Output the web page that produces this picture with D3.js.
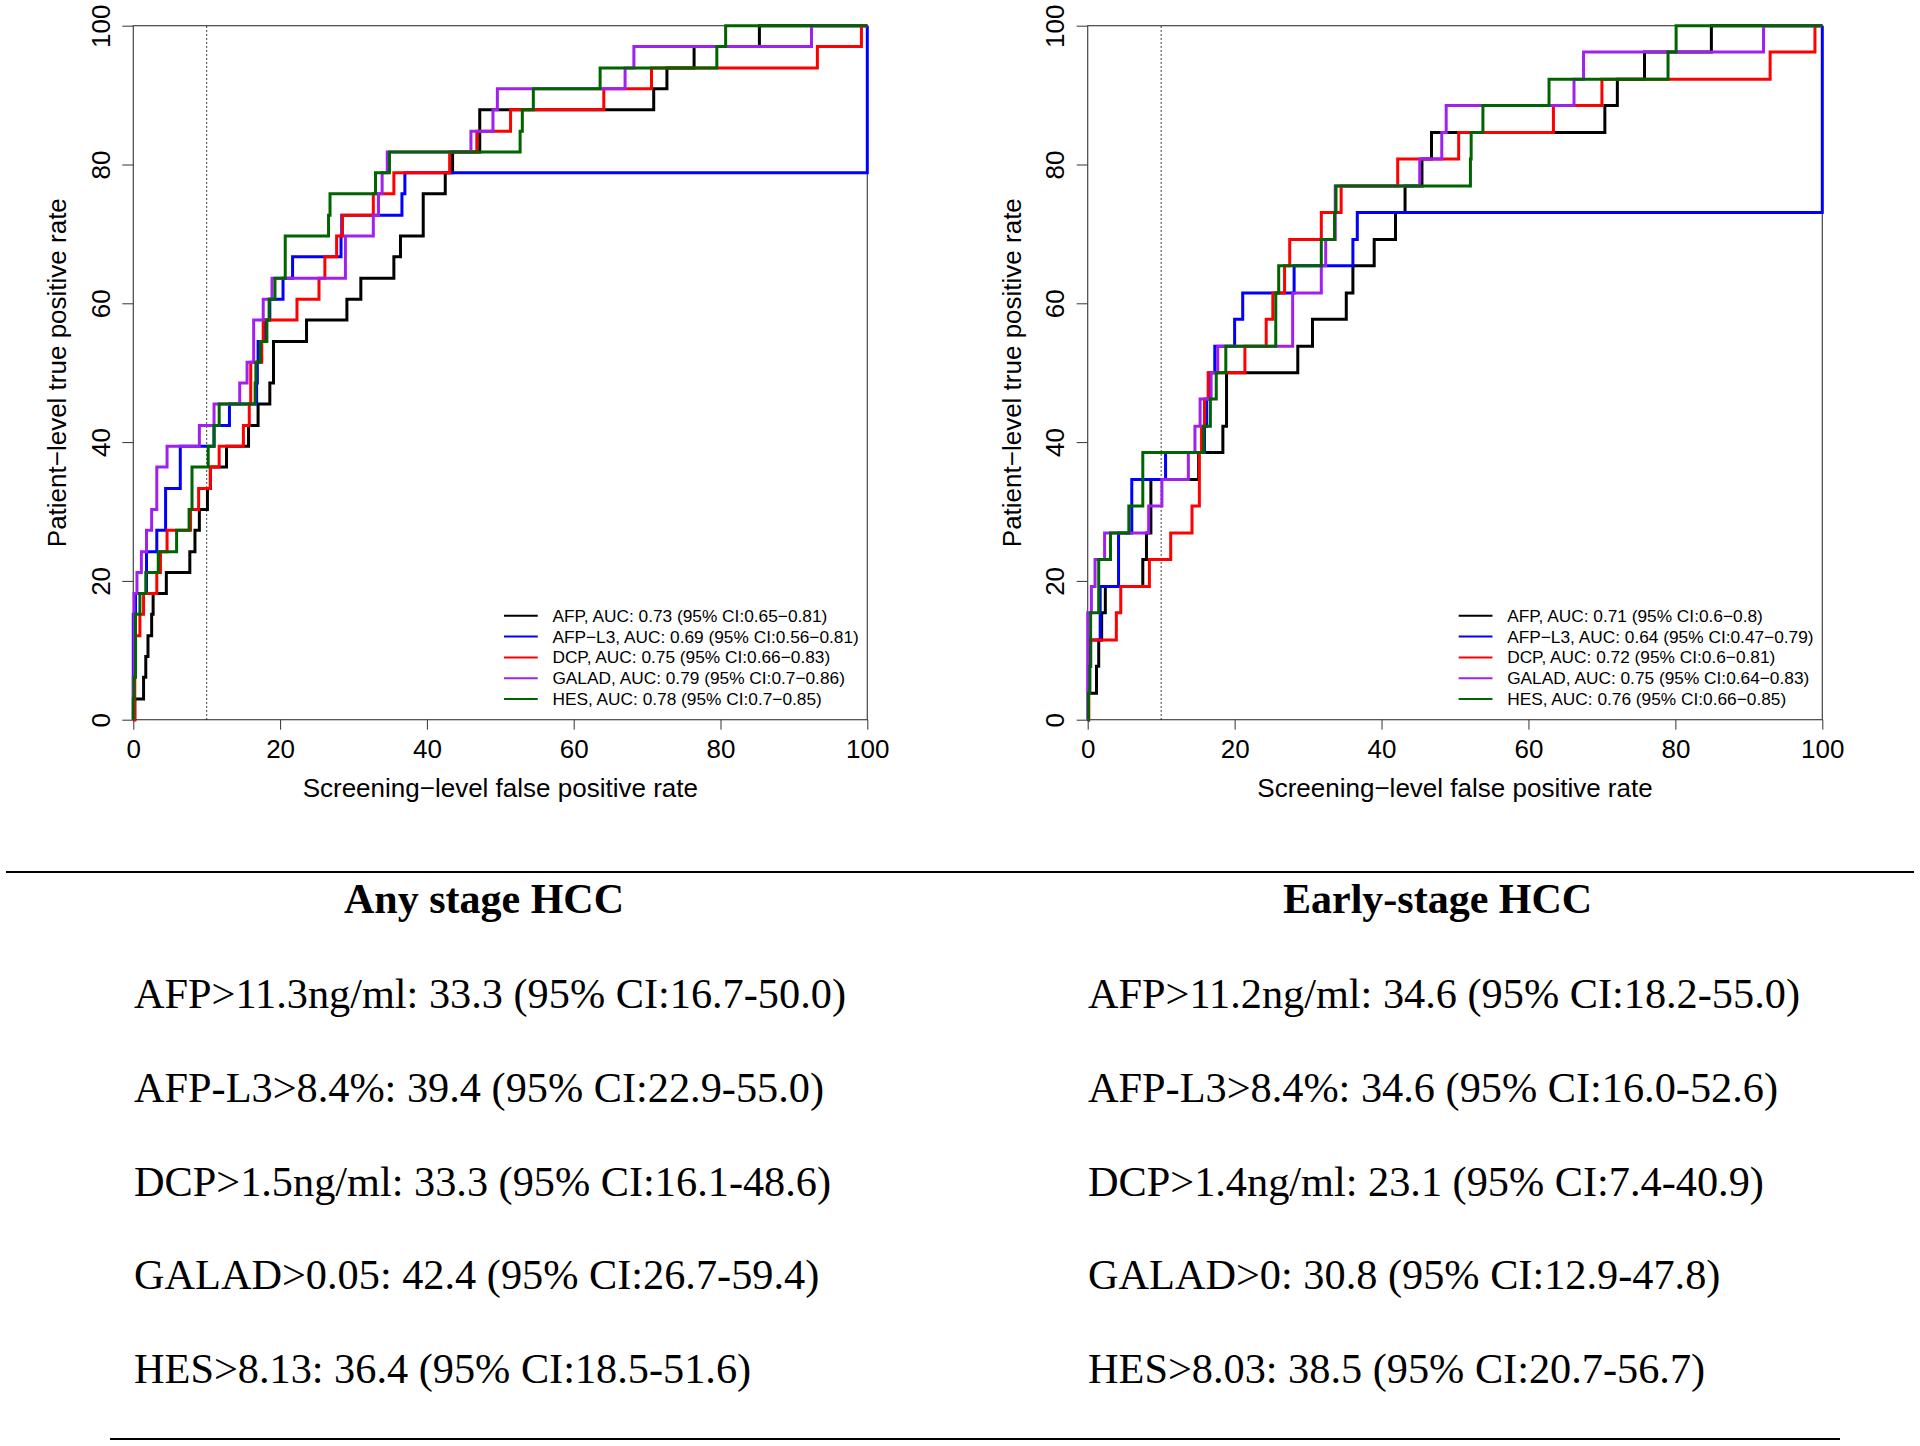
<!DOCTYPE html>
<html>
<head>
<meta charset="utf-8">
<script src="https://d3js.org/d3.v7.min.js"></script>
<style>
  body { margin: 0; background: #fff; }
  svg text { font-family: "Liberation Sans", Arial, sans-serif; }
  svg text.tbl { font-family: "Liberation Serif", "Times New Roman", serif; }
</style>
</head>
<body>
<div id="fig"></div>
<script>

var markers = ["AFP", "AFP−L3", "DCP", "GALAD", "HES"]
var colors = ["#000000", "#0000ff", "#ff0000", "#a020f0", "#006400"]

// true positive rate (%) reached after each case
var anyTpr = [0, 3.0, 6.1, 9.1, 12.1, 15.2, 18.2, 21.2, 24.2, 27.3, 30.3, 33.3, 36.4, 39.4, 42.4, 45.5, 48.5,
  51.5, 54.5, 57.6, 60.6, 63.6, 66.7, 69.7, 72.7, 75.8, 78.8, 81.8, 84.8, 87.9, 90.9, 93.9, 97.0, 100]
var earlyTpr = [0, 3.8, 7.7, 11.5, 15.4, 19.2, 23.1, 26.9, 30.8, 34.6, 38.5, 42.3, 46.2, 50.0, 53.8, 57.7,
  61.5, 65.4, 69.2, 73.1, 76.9, 80.8, 84.6, 88.5, 92.3, 96.2, 100]

// false positive rate (%) at which each curve climbs to the next case
var anyAFP = [0.2, 1.4, 1.7, 2.0, 2.5, 2.7, 4.5, 7.7, 8.4, 9.0, 10.1, 10.5, 12.7, 15.7, 17.0, 18.6, 19.1,
  19.1, 23.6, 29.1, 31.0, 35.5, 36.4, 39.5, 39.5, 42.5, 43.5, 47.2, 47.2, 70.9, 72.7, 76.4, 85.3]
var anyL3 = [0, 0, 0, 0, 0, 0.3, 1.8, 1.8, 3.2, 4.4, 4.4, 6.4, 6.4, 11.0, 13.1, 16.8, 16.9, 17.0, 18.0,
  18.6, 20.4, 21.7, 28.3, 28.4, 36.6, 37.0, 100, 100, 100, 100, 100, 100, 100]
var anyDCP = [0.2, 0.2, 0.2, 0.2, 0.9, 1.4, 3.2, 3.7, 4.6, 7.8, 8.9, 10.5, 11.7, 15.0, 15.8, 16.0, 16.0,
  17.5, 17.7, 22.3, 25.3, 26.1, 27.7, 28.5, 32.7, 35.5, 43.1, 46.8, 51.4, 64.1, 70.6, 93.2, 99.2]
var anyGALAD = [0.0, 0.0, 0.1, 0.1, 0.1, 0.1, 0.5, 1.1, 1.8, 2.5, 3.2, 3.2, 4.6, 9.0, 11.0, 14.5, 15.5,
  16.4, 16.4, 17.7, 18.9, 28.9, 28.9, 32.7, 33.4, 33.9, 34.6, 46.0, 49.0, 49.6, 67.0, 68.2, 92.4]
var anyHES = [0.0, 0.1, 0.3, 0.3, 0.3, 0.9, 1.7, 3.4, 5.9, 7.6, 8.0, 8.0, 10.2, 11.0, 11.7, 16.6, 16.7,
  17.3, 18.2, 18.5, 19.3, 20.7, 20.7, 26.6, 26.8, 33.0, 34.9, 52.7, 53.0, 54.5, 63.6, 79.5, 80.7]

var earlyAFP = [0.1, 1.2, 1.5, 1.9, 2.4, 7.5, 8.0, 8.6, 8.6, 15.1, 18.4, 18.9, 18.9, 28.6, 30.6, 35.2,
  36.1, 39.0, 41.9, 43.2, 45.5, 46.8, 70.4, 72.1, 75.8, 84.9]
var earlyL3 = [0.1, 0.1, 0.4, 1.7, 1.7, 4.2, 4.2, 6.0, 6.0, 10.6, 15.9, 16.2, 16.5, 17.3, 20.0, 21.1,
  28.1, 36.1, 36.7, 100, 100, 100, 100, 100, 100, 100]
var earlyDCP = [0.15, 0.15, 0.15, 3.9, 4.5, 8.4, 11.3, 14.2, 15.2, 15.2, 15.5, 15.9, 16.4, 21.4, 24.3,
  25.2, 26.8, 27.5, 31.8, 34.5, 42.2, 50.5, 63.4, 70.0, 92.9, 99.0]
var earlyGALAD = [0.0, 0.0, 0.0, 0.0, 0.5, 1.0, 2.3, 8.3, 10.1, 13.7, 14.6, 15.3, 16.8, 17.7, 27.9, 27.9,
  31.8, 32.4, 33.7, 33.7, 45.2, 48.2, 48.8, 66.2, 67.5, 92.0]
var earlyHES = [0.1, 0.3, 0.4, 0.4, 1.5, 1.5, 3.1, 5.6, 7.5, 7.5, 15.8, 16.7, 17.5, 18.8, 25.6, 25.6,
  26.0, 31.8, 33.6, 33.8, 52.1, 52.2, 53.8, 62.8, 79.0, 80.1]

var anyAuc = ["0.73 (95% CI:0.65−0.81)", "0.69 (95% CI:0.56−0.81)", "0.75 (95% CI:0.66−0.83)",
  "0.79 (95% CI:0.7−0.86)", "0.78 (95% CI:0.7−0.85)"]
var earlyAuc = ["0.71 (95% CI:0.6−0.8)", "0.64 (95% CI:0.47−0.79)", "0.72 (95% CI:0.6−0.81)",
  "0.75 (95% CI:0.64−0.83)", "0.76 (95% CI:0.66−0.85)"]

var xTicks = [0, 20, 40, 60, 80, 100]
var yTicks = [0, 20, 40, 60, 80, 100]
var cutoff = 10

var anyTitle = "Any stage HCC"
var earlyTitle = "Early-stage HCC"
var anyRows = ["AFP>11.3ng/ml: 33.3 (95% CI:16.7-50.0)", "AFP-L3>8.4%: 39.4 (95% CI:22.9-55.0)",
  "DCP>1.5ng/ml: 33.3 (95% CI:16.1-48.6)", "GALAD>0.05: 42.4 (95% CI:26.7-59.4)",
  "HES>8.13: 36.4 (95% CI:18.5-51.6)"]
var earlyRows = ["AFP>11.2ng/ml: 34.6 (95% CI:18.2-55.0)", "AFP-L3>8.4%: 34.6 (95% CI:16.0-52.6)",
  "DCP>1.4ng/ml: 23.1 (95% CI:7.4-40.9)", "GALAD>0: 30.8 (95% CI:12.9-47.8)",
  "HES>8.03: 38.5 (95% CI:20.7-56.7)"]

var W = 1920, H = 1446

var svg = d3.select("#fig")
  .append("svg")
    .attr("width", W)
    .attr("height", H)
    .style("display", "block")
    .style("background", "#fff")

var top0 = 25.7, bottom0 = 719.7

function drawPanel(left, right, tpr, curves, aucs) {
  var x = d3.scaleLinear().domain([0, 100]).range([left, right])
  var y = d3.scaleLinear().domain([0, 100]).range([bottom0, top0])
  var g = svg.append("g")

  // axes (R style: outward ticks, y labels turned)
  g.append("g")
    .attr("transform", "translate(0," + bottom0 + ")")
    .call(d3.axisBottom(x).tickValues(xTicks).tickSize(10).tickSizeOuter(0).tickFormat(d3.format("d")))
    .call(function(a) { a.select(".domain").remove() })
    .call(function(a) { a.selectAll("line").attr("stroke", "#333") })
    .call(function(a) {
      a.selectAll("text").attr("y", 38).attr("dy", 0).attr("fill", "#000").style("font-size", "26px")
    })

  g.append("g")
    .attr("transform", "translate(" + left + ",0)")
    .call(d3.axisLeft(y).tickValues(yTicks).tickSize(11).tickSizeOuter(0).tickFormat(d3.format("d")))
    .call(function(a) { a.select(".domain").remove() })
    .call(function(a) { a.selectAll("line").attr("stroke", "#333") })
    .call(function(a) {
      a.selectAll("text")
        .attr("transform", "rotate(-90)")
        .attr("x", 0).attr("y", -23.5).attr("dy", 0)
        .attr("text-anchor", "middle").attr("fill", "#000").style("font-size", "26px")
    })

  g.append("rect")
    .attr("x", left).attr("y", top0)
    .attr("width", right - left).attr("height", bottom0 - top0)
    .attr("fill", "none").attr("stroke", "#444").attr("stroke-width", 1.2)

  g.append("text")
    .attr("x", (left + right) / 2).attr("y", 797)
    .attr("text-anchor", "middle").style("font-size", "26px")
    .text("Screening−level false positive rate")

  g.append("text")
    .attr("transform", "translate(" + (left - 67) + "," + (top0 + bottom0) / 2 + ") rotate(-90)")
    .attr("text-anchor", "middle").style("font-size", "26px")
    .text("Patient−level true positive rate")

  // 10% false positive cut-off
  g.append("line")
    .attr("x1", x(cutoff)).attr("x2", x(cutoff))
    .attr("y1", y(0)).attr("y2", y(100))
    .attr("stroke", "#000").attr("stroke-width", 1)
    .attr("stroke-dasharray", "1.5,2.5")

  // step ROC curves
  var line = d3.line().x(function(d) { return x(d[0]) }).y(function(d) { return y(d[1]) })
  curves.forEach(function(fpr, i) {
    var pts = [[0, 0]]
    fpr.forEach(function(f, k) {
      pts.push([f, tpr[k]])
      pts.push([f, tpr[k + 1]])
    })
    pts.push([100, tpr[tpr.length - 1]])
    g.append("path")
      .attr("d", line(pts))
      .attr("fill", "none")
      .attr("stroke", colors[i])
      .attr("stroke-width", 3)
      .attr("stroke-linejoin", "miter")
  })

  // legend, bottom right
  markers.forEach(function(m, i) {
    var base = bottom0 - 14.7 - (markers.length - 1 - i) * 20.8
    g.append("line")
      .attr("x1", x(50.5)).attr("x2", x(55.1))
      .attr("y1", base - 6).attr("y2", base - 6)
      .attr("stroke", colors[i]).attr("stroke-width", 2)
    g.append("text")
      .attr("x", x(57.1)).attr("y", base)
      .style("font-size", "17.3px")
      .text(m + ", AUC: " + aucs[i])
  })
}

drawPanel(133.3, 867.3, anyTpr, [anyAFP, anyL3, anyDCP, anyGALAD, anyHES], anyAuc)
drawPanel(1087.7, 1822.3, earlyTpr, [earlyAFP, earlyL3, earlyDCP, earlyGALAD, earlyHES], earlyAuc)

// sensitivity table underneath
svg.append("line")
  .attr("x1", 6).attr("x2", 1914).attr("y1", 872).attr("y2", 872)
  .attr("stroke", "#000").attr("stroke-width", 2)
svg.append("line")
  .attr("x1", 110).attr("x2", 1840).attr("y1", 1439).attr("y2", 1439)
  .attr("stroke", "#000").attr("stroke-width", 2)

var cols = [
  {title: anyTitle, rows: anyRows, cx: 484, x0: 134},
  {title: earlyTitle, rows: earlyRows, cx: 1437.6, x0: 1088}
]
cols.forEach(function(c) {
  svg.append("text")
    .attr("class", "tbl")
    .attr("x", c.cx).attr("y", 913)
    .attr("text-anchor", "middle")
    .style("font-size", "42px").style("font-weight", "bold")
    .text(c.title)
  c.rows.forEach(function(r, i) {
    svg.append("text")
      .attr("class", "tbl")
      .attr("x", c.x0).attr("y", 1008 + i * 93.8)
      .style("font-size", "42.3px")
      .text(r)
  })
})

</script>
</body>
</html>
